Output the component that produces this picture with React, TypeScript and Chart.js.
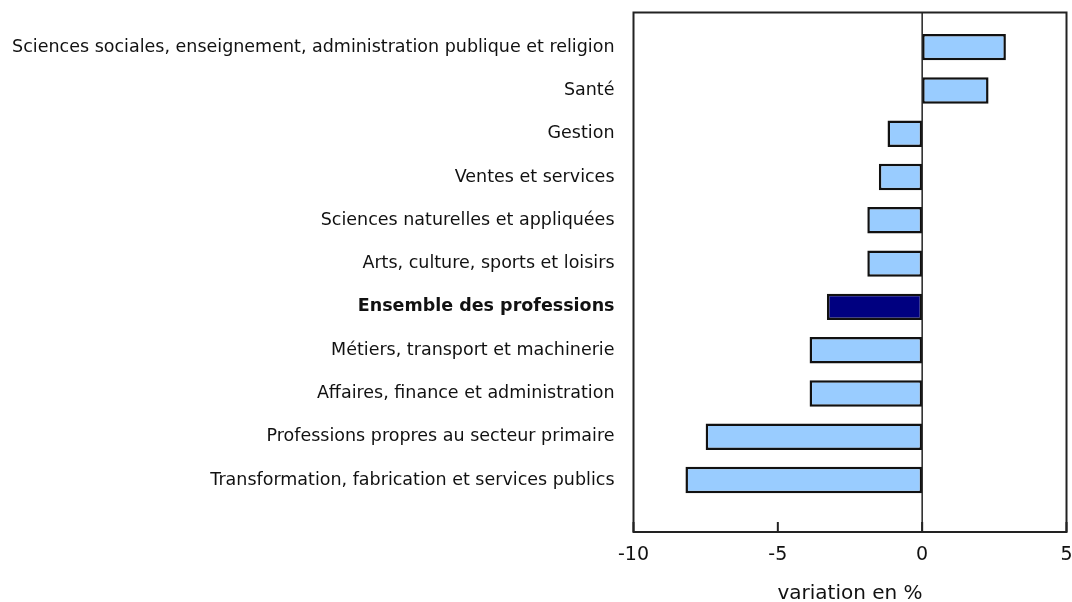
import React, { useEffect, useRef } from "react";
import { Chart, registerables } from "chart.js";

Chart.register(...registerables);

const categories: string[] = [
  "Sciences sociales, enseignement, administration publique et religion",
  "Santé",
  "Gestion",
  "Ventes et services",
  "Sciences naturelles et appliquées",
  "Arts, culture, sports et loisirs",
  "Ensemble des professions",
  "Métiers, transport et machinerie",
  "Affaires, finance et administration",
  "Professions propres au secteur primaire",
  "Transformation, fabrication et services publics",
];

const values: number[] = [2.9, 2.3, -1.2, -1.5, -1.9, -1.9, -3.3, -3.9, -3.9, -7.5, -8.2];

const highlightLabel = "Ensemble des professions";
const xTicks: number[] = [-10, -5, 0, 5];
const xTitle = "variation en %";

const FONT = "'DejaVu Sans', Verdana, sans-serif";

const boxPlugin = {
  id: "boxPlugin",
  afterDraw(chart: any) {
    const { ctx, chartArea, scales } = chart;
    const { left, right, top, bottom } = chartArea;
    ctx.save();
    ctx.strokeStyle = "#222";
    ctx.lineWidth = 2;
    ctx.strokeRect(left, top, right - left, bottom - top);
    for (const v of xTicks) {
      const x = scales.x.getPixelForValue(v);
      ctx.beginPath();
      ctx.moveTo(x, bottom);
      ctx.lineTo(x, bottom - 10);
      ctx.stroke();
    }
    const x0 = scales.x.getPixelForValue(0);
    ctx.lineWidth = 1.5;
    ctx.beginPath();
    ctx.moveTo(x0, top);
    ctx.lineTo(x0, bottom);
    ctx.stroke();
    ctx.restore();
  },
};

export default function App() {
  const canvasRef = useRef<HTMLCanvasElement | null>(null);

  useEffect(() => {
    if (!canvasRef.current) return;
    const data = values.map((v, i) => ({ x: v, y: i }));
    const chart = new Chart(canvasRef.current, {
      type: "bar",
      data: {
        datasets: [
          {
            data: data as any,
            backgroundColor: categories.map((c) => (c === highlightLabel ? "#000080" : "#99CCFF")),
            borderColor: "#111",
            borderWidth: 2.5,
            borderSkipped: false,
            barPercentage: 0.61,
            categoryPercentage: 1,
          },
        ],
      },
      options: {
        indexAxis: "y",
        animation: false,
        responsive: false,
        maintainAspectRatio: false,
        layout: { padding: { top: 12.5, right: 5.5, left: 0, bottom: 0 } },
        plugins: {
          legend: { display: false },
          tooltip: { enabled: false },
        },
        scales: {
          y: {
            type: "linear",
            reverse: true,
            offset: false,
            min: -0.8,
            max: 11.2,
            afterBuildTicks: (scale: any) => {
              scale.ticks = categories.map((_, i) => ({ value: i }));
            },
            afterFit: (scale: any) => {
              scale.width = 633.5;
              scale.paddingTop = 0;
              scale.paddingBottom = 0;
            },
            grid: { display: false, drawTicks: false, offset: false },
            border: { display: false },
            ticks: {
              padding: 19,
              color: "#111",
              autoSkip: false,
              callback: (v: any) => categories[v as number] ?? "",
              font: (ctx: any) => ({
                family: FONT,
                size: 17.5,
                weight: categories[ctx.index] === highlightLabel ? "bold" : "normal",
              }),
            },
          },
          x: {
            type: "linear",
            min: -10,
            max: 5,
            afterBuildTicks: (scale: any) => {
              scale.ticks = xTicks.map((v) => ({ value: v }));
            },
            afterFit: (scale: any) => {
              scale.height = 70;
              scale.paddingLeft = 0;
              scale.paddingRight = 0;
            },
            grid: { display: false, drawTicks: false },
            border: { display: false },
            ticks: {
              padding: 12,
              color: "#111",
              font: { family: FONT, size: 19 },
            },
            title: {
              display: true,
              text: xTitle,
              color: "#111",
              font: { family: FONT, size: 20, lineHeight: 1 },
              padding: { top: 0, bottom: -2 },
            },
          },
        },
      },
      plugins: [boxPlugin],
    });
    return () => chart.destroy();
  }, []);

  return (
    <div style={{ position: "fixed", left: 0, top: 0, width: 1072, height: 602, background: "#fff" }}>
      <canvas ref={canvasRef} width={1072} height={602} style={{ display: "block" }} />
    </div>
  );
}
